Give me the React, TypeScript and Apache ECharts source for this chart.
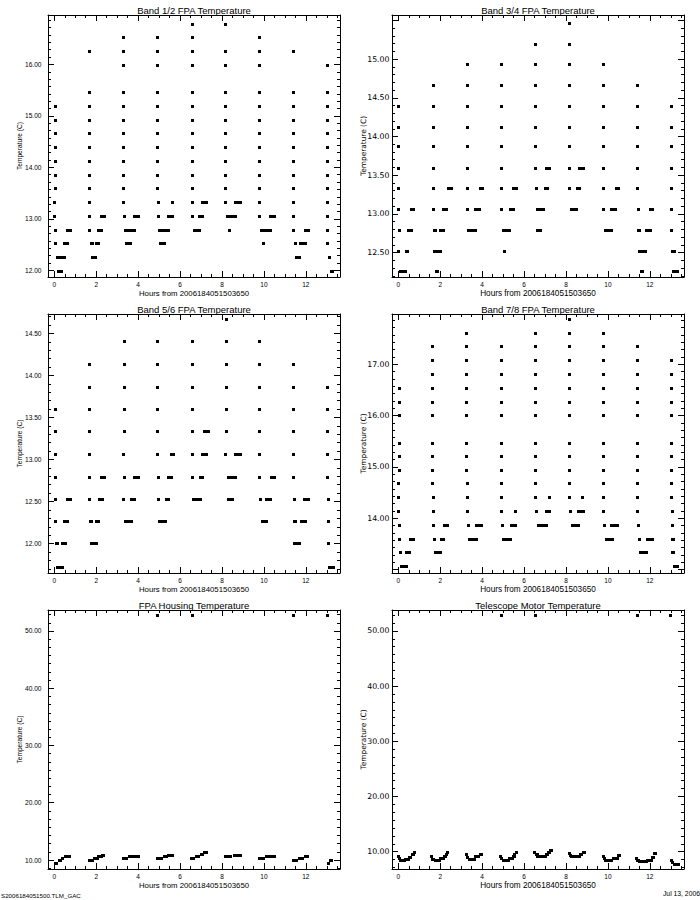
import React, { useEffect, useRef } from 'react';
import * as echarts from 'echarts';

type Run = [number, number, number]; // [hour start, hour end, temperature]

const X_TITLE = 'Hours from 2006184051503650';
const Y_TITLE = 'Temperature (C)';
const X_MIN = -0.3;
const X_MAX = 13.63;
const FILE_NAME = 'S2006184051500.TLM_GAC';
const RUN_DATE = 'Jul 13, 2006';

// ---------- Band 1/2 ----------
const band12ColX = [0.06, 1.67, 3.32, 4.93, 6.57, 8.19, 9.81, 11.40, 13.04];
const band12ColTemps = [
  [15.18, 14.92, 14.65, 14.38, 14.12, 13.85, 13.58],
  [16.25, 15.45, 15.18, 14.92, 14.65, 14.38, 14.12, 13.85, 13.58],
  [16.52, 16.25, 15.98, 15.45, 15.18, 14.92, 14.65, 14.38, 14.12, 13.85, 13.58],
  [16.52, 16.25, 15.98, 15.45, 15.18, 14.92, 14.65, 14.38, 14.12, 13.85, 13.58],
  [16.78, 16.52, 16.25, 15.98, 15.45, 15.18, 14.92, 14.65, 14.38, 14.12, 13.85, 13.58],
  [16.78, 16.25, 15.98, 15.45, 15.18, 14.92, 14.65, 14.38, 14.12, 13.85, 13.58],
  [16.52, 16.25, 15.98, 15.45, 15.18, 14.92, 14.65, 14.38, 14.12, 13.85, 13.58],
  [16.25, 15.45, 15.18, 14.92, 14.65, 14.38, 14.12, 13.85, 13.58],
  [15.98, 15.45, 15.18, 14.92, 14.65, 14.38, 14.12, 13.85, 13.58],
];
const band12Runs: Run[] = [
  [0.03, 0.03, 13.31], [1.67, 1.67, 13.31], [3.32, 3.32, 13.31], [4.96, 4.96, 13.31], [5.63, 5.63, 13.31],
  [6.58, 6.58, 13.31], [7.06, 7.24, 13.31], [8.19, 8.19, 13.31], [8.65, 8.87, 13.31], [9.81, 9.81, 13.31],
  [11.40, 11.40, 13.31], [13.04, 13.04, 13.31],
  [0.03, 0.03, 13.05], [1.70, 1.70, 13.05], [2.25, 2.38, 13.05], [3.34, 3.34, 13.05], [3.81, 3.98, 13.05],
  [4.96, 4.96, 13.05], [5.44, 5.62, 13.05], [6.60, 6.60, 13.05], [6.92, 7.05, 13.05], [8.26, 8.64, 13.05],
  [9.81, 9.81, 13.05], [10.31, 10.49, 13.05], [11.41, 11.41, 13.05], [13.04, 13.04, 13.05],
  [0.08, 0.08, 12.78], [0.63, 0.76, 12.78], [1.70, 1.70, 12.78], [2.11, 2.24, 12.78], [3.41, 3.83, 12.78],
  [5.03, 5.45, 12.78], [6.69, 6.91, 12.78], [8.36, 8.36, 12.78], [9.88, 10.30, 12.78], [11.41, 11.41, 12.78],
  [11.98, 12.12, 12.78], [13.04, 13.04, 12.78],
  [0.08, 0.08, 12.52], [0.50, 0.63, 12.52], [1.78, 1.82, 12.52], [2.01, 2.11, 12.52], [3.46, 3.63, 12.52],
  [5.07, 5.24, 12.52], [9.99, 10.01, 12.52], [11.52, 11.54, 12.52], [11.74, 11.96, 12.52], [13.04, 13.04, 12.52],
  [0.15, 0.47, 12.25], [1.82, 1.95, 12.25], [11.55, 11.69, 12.25], [13.14, 13.16, 12.25],
  [0.21, 0.35, 11.98], [13.23, 13.29, 11.98],
];

// ---------- Band 3/4 ----------
const band34ColX = [0.02, 1.66, 3.30, 4.92, 6.53, 8.17, 9.80, 11.39, 13.03];
const band34ColTemps = [
  [14.39, 14.12, 13.87, 13.59, 13.33],
  [14.66, 14.39, 14.12, 13.87, 13.59, 13.33],
  [14.93, 14.66, 14.39, 14.12, 13.87, 13.59, 13.33],
  [14.93, 14.66, 14.39, 14.12, 13.87, 13.59, 13.33],
  [15.19, 14.93, 14.66, 14.39, 14.12, 13.87, 13.59],
  [15.46, 15.19, 14.93, 14.66, 14.39, 14.12, 13.87, 13.59, 13.33],
  [14.93, 14.66, 14.39, 14.12, 13.87, 13.59, 13.33],
  [14.66, 14.39, 14.12, 13.87, 13.59, 13.33],
  [14.39, 14.12, 13.87, 13.59, 13.33],
];
const band34Runs: Run[] = [
  [7.08, 7.23, 13.59], [8.66, 8.85, 13.59],
  [2.38, 2.53, 13.33], [3.91, 3.99, 13.33], [5.49, 5.63, 13.33], [6.58, 6.58, 13.33], [7.02, 7.10, 13.33],
  [8.56, 8.66, 13.33], [10.39, 10.49, 13.33],
  [0.03, 0.03, 13.06], [0.64, 0.73, 13.06], [1.69, 1.69, 13.06], [2.14, 2.26, 13.06], [3.31, 3.31, 13.06],
  [3.70, 3.88, 13.06], [4.94, 4.94, 13.06], [5.33, 5.48, 13.06], [6.63, 6.94, 13.06], [8.26, 8.50, 13.06],
  [9.80, 9.80, 13.06], [10.17, 10.38, 13.06], [11.44, 11.44, 13.06], [12.02, 12.10, 13.06], [13.05, 13.05, 13.06],
  [0.06, 0.06, 12.79], [0.48, 0.63, 12.79], [1.71, 1.78, 12.79], [2.01, 2.13, 12.79], [3.35, 3.69, 12.79],
  [5.01, 5.32, 12.79], [6.65, 6.81, 12.79], [9.87, 10.16, 12.79], [11.46, 11.52, 12.79], [11.83, 12.02, 12.79],
  [13.05, 13.05, 12.79],
  [0.03, 0.03, 12.52], [0.40, 0.47, 12.52], [1.74, 2.02, 12.52], [5.07, 5.07, 12.52], [11.49, 11.77, 12.52],
  [13.08, 13.16, 12.52],
  [0.12, 0.36, 12.26], [1.82, 1.86, 12.26], [11.59, 11.63, 12.26], [13.12, 13.33, 12.26],
];

// ---------- Band 5/6 ----------
const band56ColX = [0.07, 1.70, 3.33, 4.93, 6.60, 8.22, 9.81, 11.40, 13.04];
const band56ColTemps = [
  [13.60, 13.33],
  [14.13, 13.86, 13.60, 13.33],
  [14.40, 14.13, 13.86, 13.60, 13.33],
  [14.40, 14.13, 13.86, 13.60, 13.33],
  [14.40, 14.13, 13.86, 13.60, 13.33],
  [14.67, 14.40, 14.13, 13.86, 13.60, 13.33],
  [14.40, 14.13, 13.86, 13.60, 13.33],
  [14.13, 13.86, 13.60, 13.33],
  [13.86, 13.60, 13.33],
];
const band56Runs: Run[] = [
  [7.18, 7.39, 13.33],
  [0.05, 0.05, 13.06], [1.67, 1.67, 13.06], [3.31, 3.31, 13.06], [4.93, 4.93, 13.06], [5.57, 5.65, 13.06],
  [6.57, 6.57, 13.06], [7.06, 7.23, 13.06], [8.19, 8.19, 13.06], [8.65, 8.87, 13.06], [9.81, 9.81, 13.06],
  [11.41, 11.41, 13.06], [13.04, 13.04, 13.06],
  [0.05, 0.05, 12.79], [1.70, 1.70, 12.79], [2.25, 2.40, 12.79], [3.34, 3.34, 12.79], [3.84, 4.02, 12.79],
  [4.96, 4.96, 12.79], [5.46, 5.61, 12.79], [6.60, 6.60, 12.79], [6.97, 7.07, 12.79], [8.29, 8.64, 12.79],
  [9.81, 9.81, 12.79], [10.37, 10.50, 12.79], [11.41, 11.41, 12.79], [13.04, 13.04, 12.79],
  [0.08, 0.08, 12.53], [0.63, 0.79, 12.53], [1.70, 1.70, 12.53], [2.14, 2.27, 12.53], [3.31, 3.31, 12.53],
  [3.68, 3.83, 12.53], [4.96, 4.96, 12.53], [5.35, 5.46, 12.53], [6.64, 6.97, 12.53], [8.31, 8.50, 12.53],
  [9.86, 9.86, 12.53], [10.12, 10.31, 12.53], [11.45, 11.45, 12.53], [11.96, 12.14, 12.53], [13.07, 13.07, 12.53],
  [0.08, 0.08, 12.26], [0.47, 0.63, 12.26], [1.72, 1.79, 12.26], [2.01, 2.11, 12.26], [3.39, 3.68, 12.26],
  [5.01, 5.30, 12.26], [9.93, 10.14, 12.26], [11.47, 11.52, 12.26], [11.77, 11.98, 12.26], [13.07, 13.07, 12.26],
  [0.12, 0.15, 12.00], [0.37, 0.49, 12.00], [1.76, 2.00, 12.00], [11.48, 11.73, 12.00], [13.10, 13.10, 12.00],
  [0.15, 0.39, 11.72], [13.11, 13.32, 11.72],
];

// ---------- Band 7/8 ----------
const band78ColX = [0.05, 1.64, 3.27, 4.94, 6.53, 8.17, 9.80, 11.39, 13.04];
const band78ColTemps = [
  [16.53, 16.26, 16.00, 15.46, 15.20, 14.93],
  [17.34, 17.07, 16.81, 16.53, 16.26, 16.00, 15.46, 15.20, 14.93],
  [17.60, 17.34, 17.07, 16.81, 16.53, 16.26, 16.00, 15.46, 15.20, 14.93],
  [17.34, 17.07, 16.81, 16.53, 16.26, 16.00, 15.46, 15.20, 14.93],
  [17.60, 17.34, 17.07, 16.81, 16.53, 16.26, 16.00, 15.46, 15.20, 14.93],
  [17.88, 17.60, 17.34, 17.07, 16.81, 16.53, 16.26, 16.00, 15.46, 15.20, 14.93],
  [17.60, 17.34, 17.07, 16.81, 16.53, 16.26, 16.00, 15.46, 15.20, 14.93],
  [17.34, 17.07, 16.81, 16.53, 16.26, 16.00, 15.46, 15.20, 14.93],
  [17.07, 16.81, 16.53, 16.26, 16.00, 15.46, 15.20, 14.93],
];
const band78Runs: Run[] = [
  [0.02, 0.02, 14.67], [1.64, 1.64, 14.67], [3.28, 3.28, 14.67], [4.91, 4.91, 14.67], [6.55, 6.55, 14.67],
  [8.17, 8.17, 14.67], [9.81, 9.81, 14.67], [11.41, 11.41, 14.67], [13.03, 13.03, 14.67],
  [0.02, 0.02, 14.40], [1.66, 1.66, 14.40], [3.30, 3.30, 14.40], [4.91, 4.91, 14.40], [6.55, 6.55, 14.40],
  [7.19, 7.19, 14.40], [8.17, 8.17, 14.40], [8.81, 8.81, 14.40], [9.81, 9.81, 14.40], [11.41, 11.41, 14.40],
  [13.03, 13.03, 14.40],
  [0.03, 0.03, 14.12], [1.69, 1.69, 14.12], [3.31, 3.31, 14.12], [4.91, 4.91, 14.12], [5.58, 5.58, 14.12],
  [6.58, 6.58, 14.12], [7.05, 7.20, 14.12], [8.22, 8.22, 14.12], [8.59, 8.82, 14.12], [9.81, 9.81, 14.12],
  [11.41, 11.41, 14.12], [13.06, 13.06, 14.12],
  [0.06, 0.06, 13.86], [1.69, 1.69, 13.86], [2.22, 2.37, 13.86], [3.35, 3.35, 13.86], [3.75, 3.99, 13.86],
  [4.96, 4.96, 13.86], [5.38, 5.55, 13.86], [6.67, 7.05, 13.86], [8.29, 8.58, 13.86], [9.85, 9.85, 13.86],
  [10.19, 10.49, 13.86], [11.44, 11.44, 13.86], [13.06, 13.06, 13.86],
  [0.06, 0.06, 13.59], [0.60, 0.74, 13.59], [1.71, 1.71, 13.59], [2.08, 2.18, 13.59], [3.42, 3.74, 13.59],
  [5.04, 5.36, 13.59], [9.92, 10.21, 13.59], [11.49, 11.49, 13.59], [11.88, 12.12, 13.59], [13.06, 13.12, 13.59],
  [0.10, 0.10, 13.32], [0.40, 0.55, 13.32], [1.79, 2.02, 13.32], [11.56, 11.86, 13.32], [13.10, 13.15, 13.32],
  [0.17, 0.41, 13.05], [13.18, 13.31, 13.05],
];

// ---------- FPA Housing ----------
const housingSpikes: Run[] = [
  [4.94, 4.94, 52.67], [6.57, 6.57, 52.67], [11.40, 11.40, 52.67], [13.04, 13.04, 52.67],
];
const housingRuns: Run[] = [
  [0.04, 0.09, 9.42], [0.23, 0.28, 9.83], [0.39, 0.41, 10.29], [0.55, 0.76, 10.58],
  [1.68, 1.82, 9.83], [1.90, 2.05, 10.29], [2.12, 2.25, 10.58], [2.30, 2.36, 10.87],
  [3.31, 3.43, 10.29], [3.57, 4.02, 10.58],
  [4.92, 5.13, 10.23], [5.27, 5.37, 10.58], [5.43, 5.61, 10.87],
  [6.54, 6.64, 10.23], [6.78, 6.88, 10.58], [7.02, 7.07, 10.93], [7.15, 7.24, 11.34],
  [8.18, 8.44, 10.64], [8.58, 8.86, 10.87],
  [9.80, 9.98, 10.29], [10.12, 10.49, 10.58],
  [11.42, 11.57, 9.88], [11.71, 11.85, 10.29], [11.99, 12.09, 10.58],
  [13.06, 13.08, 9.42], [13.17, 13.24, 9.83],
];

// ---------- Telescope Motor ----------
const motorSpikes: Run[] = [
  [4.91, 4.91, 52.78], [6.53, 6.53, 52.78], [11.39, 11.39, 52.78], [13.00, 13.00, 52.78],
];
const motorRuns: Run[] = [
  [0.00, 0.00, 9.21], [0.04, 0.06, 8.79], [0.10, 0.30, 8.31], [0.34, 0.50, 8.55], [0.55, 0.62, 8.97],
  [0.66, 0.70, 9.40], [0.75, 0.77, 9.82],
  [1.59, 1.59, 9.09], [1.65, 1.68, 8.67], [1.76, 1.94, 8.31], [2.00, 2.14, 8.79], [2.20, 2.24, 9.15],
  [2.28, 2.30, 9.40], [2.37, 2.39, 9.94],
  [3.24, 3.24, 9.40], [3.30, 3.32, 9.03], [3.38, 3.64, 8.67], [3.70, 3.86, 9.09], [3.94, 3.98, 9.52],
  [4.89, 4.89, 9.21], [4.94, 4.96, 8.85], [5.00, 5.24, 8.49], [5.30, 5.42, 8.79], [5.48, 5.52, 9.21],
  [5.56, 5.58, 9.46], [5.64, 5.66, 9.94],
  [6.52, 6.52, 9.82], [6.57, 6.60, 9.40], [6.66, 7.03, 9.09], [7.08, 7.12, 9.40], [7.18, 7.22, 9.82],
  [7.28, 7.32, 10.30],
  [8.15, 8.15, 9.70], [8.20, 8.22, 9.34], [8.26, 8.62, 9.09], [8.68, 8.74, 9.40], [8.82, 8.88, 9.82],
  [9.78, 9.78, 9.09], [9.83, 9.85, 8.73], [9.88, 10.18, 8.49], [10.25, 10.42, 8.79], [10.50, 10.55, 9.34],
  [11.37, 11.37, 8.79], [11.43, 11.46, 8.43], [11.50, 11.82, 8.19], [11.88, 12.06, 8.49], [12.12, 12.16, 9.03],
  [12.20, 12.24, 9.58],
  [13.03, 13.03, 8.49], [13.08, 13.10, 8.06], [13.17, 13.37, 7.76],
];

// Y tick labels shown in the reference, per panel
const band12YLabels = [12, 13, 14, 15, 16];
const band34YLabels = [12.5, 13, 13.5, 14, 14.5, 15];
const band56YLabels = [12, 12.5, 13, 13.5, 14, 14.5];
const band78YLabels = [14, 15, 16, 17];
const housingYLabels = [10, 20, 30, 40, 50];
const motorYLabels = [10, 20, 30, 40, 50];

function fromColumns(colX: number[], colTemps: number[][]): Run[] {
  const out: Run[] = [];
  colX.forEach((x, i) => colTemps[i].forEach((t) => out.push([x, x, t])));
  return out;
}

const FONT = '"Liberation Sans", Arial, sans-serif';
const WIDE = '"DejaVu Sans", sans-serif';

const panels = [
  { title: 'Band 1/2 FPA Temperature', left: 48, top: 15, height: 262, yMin: 11.87, yMax: 16.96, ySplit: 5, yMinor: 7, right: false,
    labels: band12YLabels, data: [...fromColumns(band12ColX, band12ColTemps), ...band12Runs] },
  { title: 'Band 3/4 FPA Temperature', left: 392, top: 15, height: 262, yMin: 12.185, yMax: 15.57, ySplit: 7, yMinor: 5, right: true,
    labels: band34YLabels, data: [...fromColumns(band34ColX, band34ColTemps), ...band34Runs] },
  { title: 'Band 5/6 FPA Temperature', left: 48, top: 314, height: 259, yMin: 11.65, yMax: 14.73, ySplit: 6, yMinor: 5, right: false,
    labels: band56YLabels, data: [...fromColumns(band56ColX, band56ColTemps), ...band56Runs] },
  { title: 'Band 7/8 FPA Temperature', left: 392, top: 314, height: 259, yMin: 12.93, yMax: 17.98, ySplit: 5, yMinor: 7, right: true,
    labels: band78YLabels, data: [...fromColumns(band78ColX, band78ColTemps), ...band78Runs] },
  { title: 'FPA Housing Temperature', left: 48, top: 610, height: 259, yMin: 8.43, yMax: 53.66, ySplit: 5, yMinor: 7, right: false,
    labels: housingYLabels, data: [...housingSpikes, ...housingRuns] },
  { title: 'Telescope Motor Temperature', left: 392, top: 610, height: 259, yMin: 6.86, yMax: 53.8, ySplit: 5, yMinor: 7, right: true,
    labels: motorYLabels, data: [...motorSpikes, ...motorRuns] },
];
const PANEL_W = 292;

const renderItem = (_params: any, api: any) => {
  const t = api.value(2);
  const a = api.coord([api.value(0), t]);
  const b = api.coord([api.value(1), t]);
  return {
    type: 'rect',
    shape: {
      x: Math.round(a[0] - 1.5),
      y: Math.round(a[1] - 1.5),
      width: Math.max(3, Math.round(b[0] - a[0] + 3)),
      height: 3,
    },
    style: { fill: '#000' },
  };
};

export default function App() {
  const ref = useRef<HTMLDivElement>(null);
  useEffect(() => {
    if (!ref.current) return;
    const chart = echarts.init(ref.current, undefined, { renderer: 'svg' });
    const black = { color: '#000', width: 1 };
    const grids: any[] = [];
    const xAxes: any[] = [];
    const yAxes: any[] = [];
    const series: any[] = [];
    const graphics: any[] = [];
    panels.forEach((p, i) => {
      grids.push({ left: p.left, top: p.top, width: PANEL_W, height: p.height, containLabel: false });
      const xCommon = {
        type: 'value', gridIndex: i, min: X_MIN, max: X_MAX, splitNumber: 7,
        axisLine: { show: true, onZero: false, lineStyle: black },
        axisTick: { show: true, inside: true, length: 6, lineStyle: black },
        minorTick: { show: true, splitNumber: 4, length: 3, lineStyle: black },
        splitLine: { show: false }, minorSplitLine: { show: false },
      };
      xAxes.push({
        ...xCommon, position: 'bottom',
        axisLabel: {
          show: true, margin: 4, fontSize: 6.5, color: '#000', fontFamily: FONT,
          showMinLabel: false, showMaxLabel: false,
          formatter: (v: number) => {
            const r = Math.round(v);
            return Math.abs(v - r) < 1e-6 && r % 2 === 0 ? String(r) : '';
          },
        },
        name: X_TITLE, nameLocation: 'middle', nameGap: 12, nameMoveOverlap: false,
        nameTextStyle: { fontSize: p.right ? 8.2 : 7.8, color: '#000', fontFamily: FONT },
      });
      xAxes.push({ ...xCommon, position: 'top', axisLabel: { show: false } });
      const yCommon = {
        type: 'value', gridIndex: i, min: p.yMin, max: p.yMax, splitNumber: p.ySplit,
        axisLine: { show: true, onZero: false, lineStyle: black },
        axisTick: { show: true, inside: true, length: 6, lineStyle: black },
        minorTick: { show: true, splitNumber: p.yMinor, length: 3, lineStyle: black },
        splitLine: { show: false }, minorSplitLine: { show: false },
      };
      yAxes.push({
        ...yCommon, position: 'left',
        axisLabel: {
          show: true, margin: p.right ? 2.5 : 6.5, fontSize: p.right ? 7.8 : 6.6, color: '#000',
          fontFamily: p.right ? WIDE : FONT,
          showMinLabel: false, showMaxLabel: false,
          formatter: (v: number) =>
            p.labels.some((l) => Math.abs(l - v) < 1e-6) ? v.toFixed(2) : '',
        },
        name: Y_TITLE, nameLocation: 'middle', nameGap: 25, nameMoveOverlap: false,
        nameTextStyle: { fontSize: p.right ? 7.4 : 6.6, color: '#000', fontFamily: p.right ? WIDE : FONT },
      });
      yAxes.push({ ...yCommon, position: 'right', axisLabel: { show: false } });
      series.push({
        type: 'custom', xAxisIndex: i * 2, yAxisIndex: i * 2,
        data: p.data, encode: { x: [0, 1], y: 2 }, renderItem, clip: true, silent: true,
      });
      graphics.push({
        type: 'text', x: p.left + PANEL_W / 2, y: p.top - 4.5,
        style: { text: p.title, fontSize: 9.5, fontFamily: FONT, fill: '#000', textAlign: 'center', textVerticalAlign: 'middle' },
      });
    });
    graphics.push({
      type: 'text', x: 1, y: 895,
      style: { text: FILE_NAME, fontSize: 6.2, fontFamily: FONT, fill: '#000', textAlign: 'left', textVerticalAlign: 'middle' },
    });
    graphics.push({
      type: 'text', x: 700, y: 893,
      style: { text: RUN_DATE, fontSize: 6.8, fontFamily: FONT, fill: '#000', textAlign: 'right', textVerticalAlign: 'middle' },
    });
    chart.setOption({
      animation: false,
      backgroundColor: '#fff',
      textStyle: { fontFamily: FONT },
      grid: grids,
      xAxis: xAxes,
      yAxis: yAxes,
      series,
      graphic: graphics,
    });
    return () => chart.dispose();
  }, []);
  return (
    <div
      ref={ref}
      style={{ position: 'fixed', left: 0, top: 0, width: 700, height: 900, background: '#fff' }}
    />
  );
}
